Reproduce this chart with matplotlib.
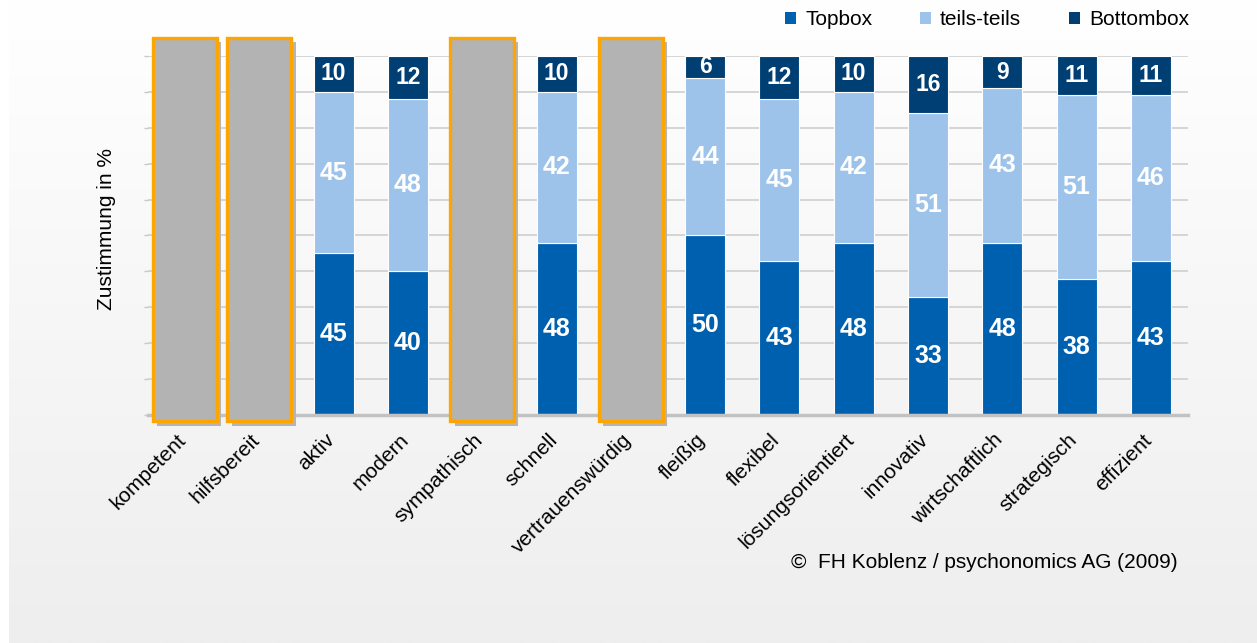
import numpy as np
import matplotlib
matplotlib.use("Agg")
import matplotlib.pyplot as plt
from matplotlib.patches import Rectangle, Patch
from matplotlib.transforms import ScaledTranslation
import matplotlib.patheffects as pe

plt.rcParams["font.family"] = ["Liberation Sans", "DejaVu Sans"]

# -----------------------------
# data (None = covered by grey box)
# -----------------------------
categories = ["kompetent", "hilfsbereit", "aktiv", "modern", "sympathisch",
              "schnell", "vertrauenswürdig", "fleißig", "flexibel",
              "lösungsorientiert", "innovativ", "wirtschaftlich",
              "strategisch", "effizient"]
topbox = [None, None, 45, 40, None, 48, None, 50, 43, 48, 33, 48, 38, 43]
teils = [None, None, 45, 48, None, 42, None, 44, 45, 42, 51, 43, 51, 46]
bottombox = [None, None, 10, 12, None, 10, None, 6, 12, 10, 16, 9, 11, 11]
hidden = [0, 1, 4, 6]

series_names = ["Topbox", "teils-teils", "Bottombox"]
colors = ["#0060b0", "#9dc3ea", "#003f74"]

W, H = 1257, 643
fig = plt.figure(figsize=(W / 100, H / 100), dpi=100)

# background panel with soft vertical gradient
bg = fig.add_axes([9 / W, 0, 1 - 9 / W, 1], zorder=-10)
grad = np.linspace(255, 238, 256).reshape(-1, 1) / 255.0
bg.imshow(np.dstack([grad, grad, grad]), aspect="auto", extent=[0, 1, 0, 1])
bg.axis("off")

ax = fig.add_axes([148 / W, 1 - 415 / H, (1188 - 148) / W, (415 - 56) / H])
ax.set_facecolor("none")

x = np.arange(len(categories))
width = 0.54

vis = [i for i in range(len(categories)) if i not in hidden]
tb = np.array([topbox[i] for i in vis], dtype=float)
tt = np.array([teils[i] for i in vis], dtype=float)
bb = np.array([bottombox[i] for i in vis], dtype=float)
xv = x[vis]

ax.bar(xv, tb, width, color=colors[0], edgecolor="white", linewidth=0.8, zorder=3)
ax.bar(xv, tt, width, bottom=tb, color=colors[1], edgecolor="white", linewidth=0.8, zorder=3)
ax.bar(xv, bb, width, bottom=tb + tt, color=colors[2], edgecolor="white", linewidth=0.8, zorder=3)

for xi, a, b, c in zip(xv, tb, tt, bb):
    ax.text(xi, a / 2, f"{a:.0f}", ha="center", va="center", color="white",
            fontsize=18, fontweight="bold", zorder=5)
    ax.text(xi, a + b / 2, f"{b:.0f}", ha="center", va="center", color="white",
            fontsize=18, fontweight="bold", zorder=5)
    ax.text(xi, a + b + c / 2, f"{c:.0f}", ha="center", va="center", color="white",
            fontsize=16.5, fontweight="bold", zorder=5)

# grey cover boxes with orange border and drop shadow
for i in hidden:
    r = Rectangle((x[i] - 0.43, -1.8), 0.86, 106.8, facecolor="#b3b3b3",
                  edgecolor="#ffa500", linewidth=2.4, zorder=6, clip_on=False)
    r.set_path_effects([pe.SimplePatchShadow(offset=(3, -3), shadow_rgbFace="#b5b5b5", alpha=1),
                        pe.Normal()])
    ax.add_patch(r)

ax.set_xlim(-0.5, len(categories) - 0.5)
ax.set_ylim(0, 100)
ax.set_yticks(np.arange(0, 101, 10))
ax.set_yticklabels([])
ax.yaxis.grid(True, color="#d2d2d2", linewidth=1.3, zorder=0)
ax.set_axisbelow(True)
ax.tick_params(axis="y", length=3, color="#c8c8c8", width=1)

ax.set_xticks(x)
ax.set_xticklabels(categories, rotation=45, ha="right", rotation_mode="anchor", fontsize=15)
ax.tick_params(axis="x", length=0, pad=11)
shift = ScaledTranslation(-9 / 100, 0, fig.dpi_scale_trans)
for lbl in ax.get_xticklabels():
    lbl.set_transform(lbl.get_transform() + shift)

for s in ["top", "right", "left"]:
    ax.spines[s].set_visible(False)
ax.spines["bottom"].set_color("#c2c2c2")
ax.spines["bottom"].set_linewidth(2.5)
ax.spines["bottom"].set_zorder(4)

fig.text(107 / W, 1 - 229 / H, "Zustimmung in %", rotation=90, ha="center",
         va="center", fontsize=15)
fig.text(1178 / W, 1 - 563 / H, "©  FH Koblenz / psychonomics AG (2009)",
         ha="right", va="center", fontsize=15)

handles = [Patch(facecolor=c, edgecolor="none") for c in colors]
fig.legend(handles, series_names, ncol=3, frameon=False, fontsize=15,
           loc="upper right", bbox_to_anchor=(1189 / W, 1 - 10 / H),
           borderaxespad=0, borderpad=0, handlelength=0.5, handleheight=0.5,
           handletextpad=0.45, columnspacing=2.3)

fig.savefig("out.png", dpi=100)
